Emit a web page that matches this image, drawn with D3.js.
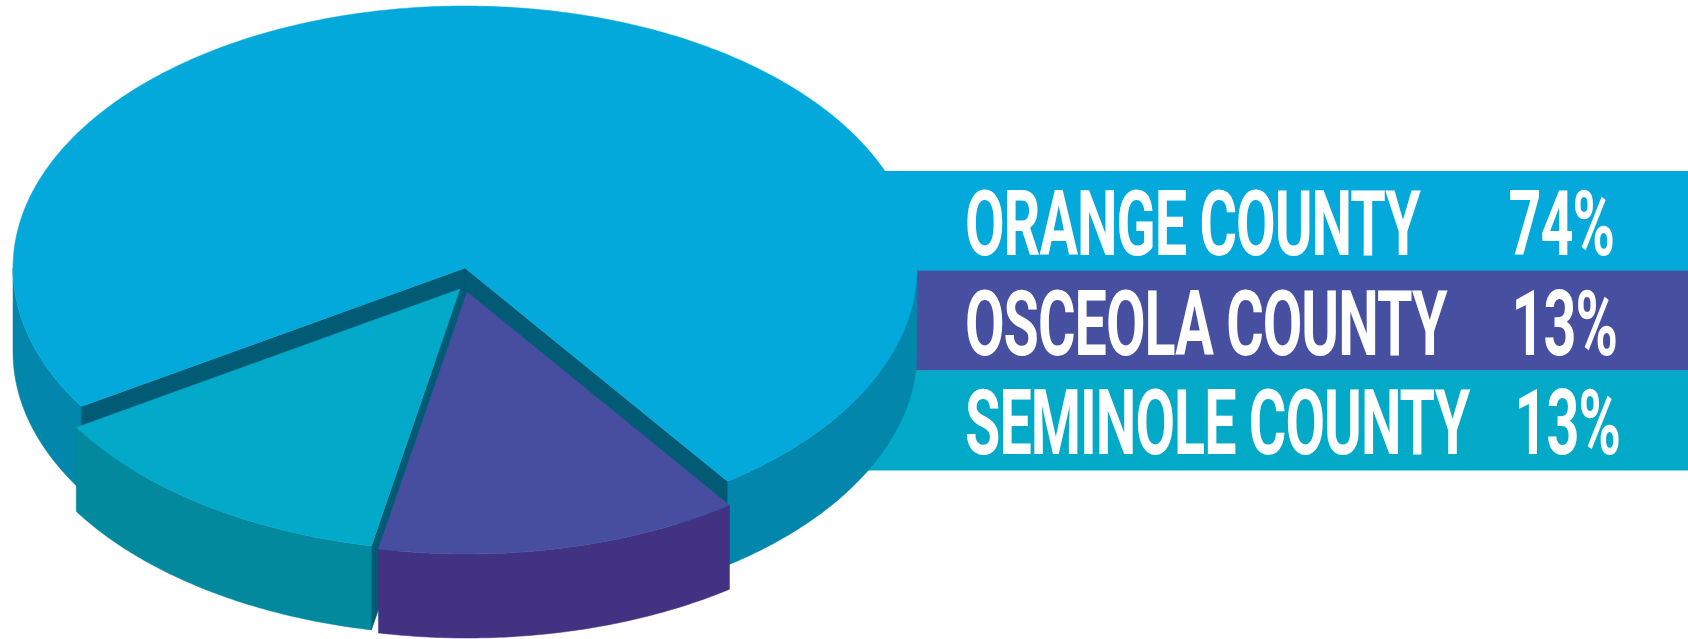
<!DOCTYPE html>
<html><head><meta charset="utf-8">
<script src="https://cdn.jsdelivr.net/npm/d3@7"></script>
<style>html,body{margin:0;padding:0;background:#fff;overflow:hidden}</style>
</head><body>
<svg id="chart" width="1688" height="639"></svg>
<script>
// ---- data ----
const categories = ["Orange County", "Osceola County", "Seminole County"];
const values = [74, 13, 13];
const labels = ["ORANGE COUNTY", "OSCEOLA COUNTY", "SEMINOLE COUNTY"];
const valueLabels = values.map(v => v + "%");

// ---- styles / layout ----
const topColors  = ["#02A9DA", "#474EA0", "#02A9C9"];
const sideColors = ["#0286AB", "#413282", "#03899E"];
const wallColor  = "#025B74";
const bandColors = ["#02A9DA", "#4750A0", "#02AAC8"];
const explode = [[0, 0], [2, 24], [-5, 21]];
const cx = 465, cy = 268, rx = 452, ry = 262, depth = 84;

const svg = d3.select("#chart");
const W = 1688;

const xS = d3.scaleLinear().domain([-1, 1]).range([cx - rx, cx + rx]);
const yS = d3.scaleLinear().domain([-1, 1]).range([cy - ry, cy + ry]);
const rowY = d3.scaleBand().domain(categories).range([171, 470]).padding(0);

// ---- legend bands (behind pie) ----
svg.selectAll("rect.band").data(categories).join("rect")
  .attr("class", "band")
  .attr("x", 860).attr("y", d => rowY(d))
  .attr("width", W - 860).attr("height", rowY.bandwidth() + 0.5)
  .attr("fill", (d, i) => bandColors[i]);

// ---- pie ----
const startDeg = 148.1;
const pie = d3.pie().sort(null)
  .startAngle((startDeg + 90) * Math.PI / 180)
  .endAngle((startDeg + 90) * Math.PI / 180 + 2 * Math.PI);
const arcs = pie(values);

function pt(t, ox, oy, dz) {
  return [xS(Math.cos(t)) + ox, yS(Math.sin(t)) + oy + (dz || 0)];
}
function arcPts(t0, t1, ox, oy, dz) {
  const n = Math.max(2, Math.ceil(Math.abs(t1 - t0) / 0.01));
  return d3.range(n + 1).map(k => pt(t0 + (t1 - t0) * k / n, ox, oy, dz));
}
const line = d3.line();

function drawSlice(a, i) {
  const t0 = a.startAngle - Math.PI / 2, t1 = a.endAngle - Math.PI / 2;
  const [ox, oy] = explode[i];
  const g = svg.append("g");
  const c = [cx + ox, cy + oy];
  for (let k = -1; k <= 2; k++) {
    const lo = Math.max(t0, 2 * k * Math.PI), hi = Math.min(t1, (2 * k + 1) * Math.PI);
    if (hi > lo) {
      const topA = arcPts(lo, hi, ox, oy, 0);
      const botA = arcPts(hi, lo, ox, oy, depth);
      g.append("path").attr("d", line(topA.concat(botA)) + "Z")
        .attr("fill", sideColors[i]).attr("stroke", sideColors[i]).attr("stroke-width", 0.5);
    }
  }
  const walls = [];
  if (Math.cos(t0) < 0) walls.push(t0);
  if (Math.cos(t1) > 0) walls.push(t1);
  walls.forEach(t => {
    const r = pt(t, ox, oy, 0);
    const q = [c, r, [r[0], r[1] + depth], [c[0], c[1] + depth]];
    g.append("path").attr("d", line(q) + "Z")
      .attr("fill", wallColor).attr("stroke", wallColor).attr("stroke-width", 0.5);
  });
  const topPts = [c].concat(arcPts(t0, t1, ox, oy, 0));
  g.append("path").attr("d", line(topPts) + "Z")
    .attr("fill", topColors[i]).attr("stroke", topColors[i]).attr("stroke-width", 0.5);
}
[0, 2, 1].forEach(i => drawSlice(arcs[i], i));

// ---- legend text ----
const font = "Roboto, 'Open Sans', 'Liberation Sans', sans-serif";
const fs = 91, ls = -1.5;
const probe = svg.append("text").attr("font-family", font).attr("font-weight", 700)
  .attr("font-size", fs).attr("letter-spacing", ls).text(labels[0]);
const sx = 455 / probe.node().getComputedTextLength();
probe.remove();

categories.forEach((cat, i) => {
  const base = rowY(cat) + 84;
  svg.append("text")
    .attr("transform", `translate(965,${base}) scale(${sx},1)`)
    .attr("font-family", font).attr("font-weight", 700).attr("font-size", fs)
    .attr("letter-spacing", ls)
    .attr("fill", "#fff")
    .text(labels[i]);
  svg.append("text")
    .attr("transform", `translate(${1614 + i * 3},${base}) scale(${sx},1)`)
    .attr("text-anchor", "end")
    .attr("font-family", font).attr("font-weight", 700).attr("font-size", fs)
    .attr("letter-spacing", ls)
    .attr("fill", "#fff")
    .text(valueLabels[i]);
});
</script>
</body></html>
